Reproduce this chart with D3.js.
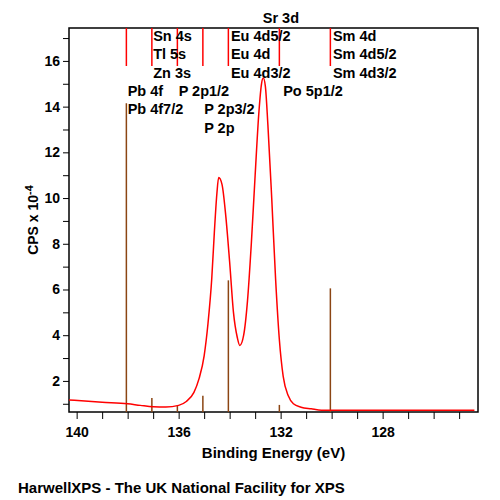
<!DOCTYPE html>
<html><head><meta charset="utf-8">
<script src="https://cdn.jsdelivr.net/npm/d3@7"></script>
<style>body{margin:0;background:#fff}text{font-family:"Liberation Sans",Arial,sans-serif;font-weight:bold}</style>
</head><body><svg width="500" height="500"></svg>
<script>
// spectrum (binding energy eV, CPS x 1e-4)
const energy = [140.3,139,138,137.5,137,136.5,136,135.7,135.4,135.2,135,134.85,134.7,134.6,134.5,134.43,134.3,134.15,134,133.85,133.7,133.6,133.45,133.3,133.15,133,132.85,132.75,132.68,132.6,132.5,132.35,132.2,132.05,131.9,131.7,131.5,131.2,130.8,130.4,129,127,125,124.4];
const cps = [1.17,1.07,1.0,0.93,0.87,0.86,0.93,1.1,1.5,2.1,3.1,4.5,6.5,8.5,10.2,10.9,10.6,9.2,7.2,5.0,3.9,3.55,4.0,5.5,8.0,11.0,13.8,15.0,15.25,14.9,13.2,10.0,6.5,3.8,2.2,1.35,1.0,0.85,0.78,0.72,0.72,0.72,0.72,0.72];
// red reference markers at top
const refEnergy = [138.05,137.05,136.05,135.05,134.05,132.05,130.05];
// brown component lines
const compEnergy = [138.05,137.05,136.05,135.05,134.05,132.05,130.05];
const compHeight = [14.15,1.25,0.9,1.35,6.4,0.95,6.05];
// annotations: text, energy, row
const labels = [
  ["Sr 3d",132.7,-1],
  ["Sn 4s",137.0,0],["Tl 5s",137.0,1],["Zn 3s",137.0,2],
  ["Eu 4d5/2",133.95,0],["Eu 4d",133.95,1],["Eu 4d3/2",133.95,2],
  ["Sm 4d",129.95,0],["Sm 4d5/2",129.95,1],["Sm 4d3/2",129.95,2],
  ["Pb 4f",138.0,3],["Pb 4f7/2",138.0,4],
  ["P 2p1/2",136.0,3],["P 2p3/2",135.0,4],["P 2p",135.0,5],
  ["Po 5p1/2",131.9,3]
];
const xTicks = [140,136,132,128];
const yTicks = [2,4,6,8,10,12,14,16];

const svg = d3.select("svg");
const L = 69, R = 478, T = 28, B = 412;
const x = d3.scaleLinear().domain([140.3, 124.26]).range([L, R]);
const y = d3.scaleLinear().domain([0.64, 17.44]).range([B, T]);

svg.append("rect").attr("x", L).attr("y", T).attr("width", R - L).attr("height", B - T)
  .attr("fill", "none").attr("stroke", "#000").attr("stroke-width", 1.5);

// axes
const xAxis = svg.append("g").attr("transform", `translate(0,${B})`)
  .call(d3.axisBottom(x).tickValues(d3.range(140, 124, -1)).tickSize(7)
    .tickFormat(d => xTicks.includes(d) ? d : ""));
xAxis.select(".domain").remove();
xAxis.selectAll("text").attr("font-size", 14).attr("dy", "1.1em");
const yAxis = svg.append("g").attr("transform", `translate(${L},0)`)
  .call(d3.axisLeft(y).tickValues(d3.range(1, 18)).tickSize(6)
    .tickFormat(d => yTicks.includes(d) ? d : ""));
yAxis.select(".domain").remove();
yAxis.selectAll("text").attr("font-size", 14);

svg.append("text").attr("x", (L + R) / 2).attr("y", 458).attr("text-anchor", "middle")
  .attr("font-size", 15).text("Binding Energy (eV)");
const yl = svg.append("text").attr("transform", `translate(38,${(T + B) / 2}) rotate(-90)`)
  .attr("text-anchor", "middle").attr("font-size", 14);
yl.append("tspan").text("CPS x 10");
yl.append("tspan").attr("dy", -5).attr("font-size", 11).text("-4");
svg.append("text").attr("x", 18).attr("y", 493).attr("font-size", 15)
  .text("HarwellXPS - The UK National Facility for XPS");

// component lines
svg.append("g").selectAll("line").data(compEnergy).join("line")
  .attr("x1", d => x(d)).attr("x2", d => x(d))
  .attr("y1", B).attr("y2", (d, i) => y(compHeight[i]))
  .attr("stroke", "#8B4513").attr("stroke-width", 1.5);

// reference markers
svg.append("g").selectAll("line").data(refEnergy).join("line")
  .attr("x1", d => x(d)).attr("x2", d => x(d))
  .attr("y1", T).attr("y2", T + 38).attr("stroke", "red").attr("stroke-width", 1.5);

// spectrum
const pts = energy.map((e, i) => [e, cps[i]]);
svg.append("path").datum(pts).attr("fill", "none").attr("stroke", "red").attr("stroke-width", 1.5)
  .attr("d", d3.line().x(d => x(d[0])).y(d => y(d[1])).curve(d3.curveMonotoneX));

// labels
svg.append("g").selectAll("text").data(labels).join("text")
  .attr("x", d => x(d[1])).attr("y", d => 41 + d[2] * 18.3)
  .attr("font-size", 14.5).text(d => d[0]);
</script></body></html>
